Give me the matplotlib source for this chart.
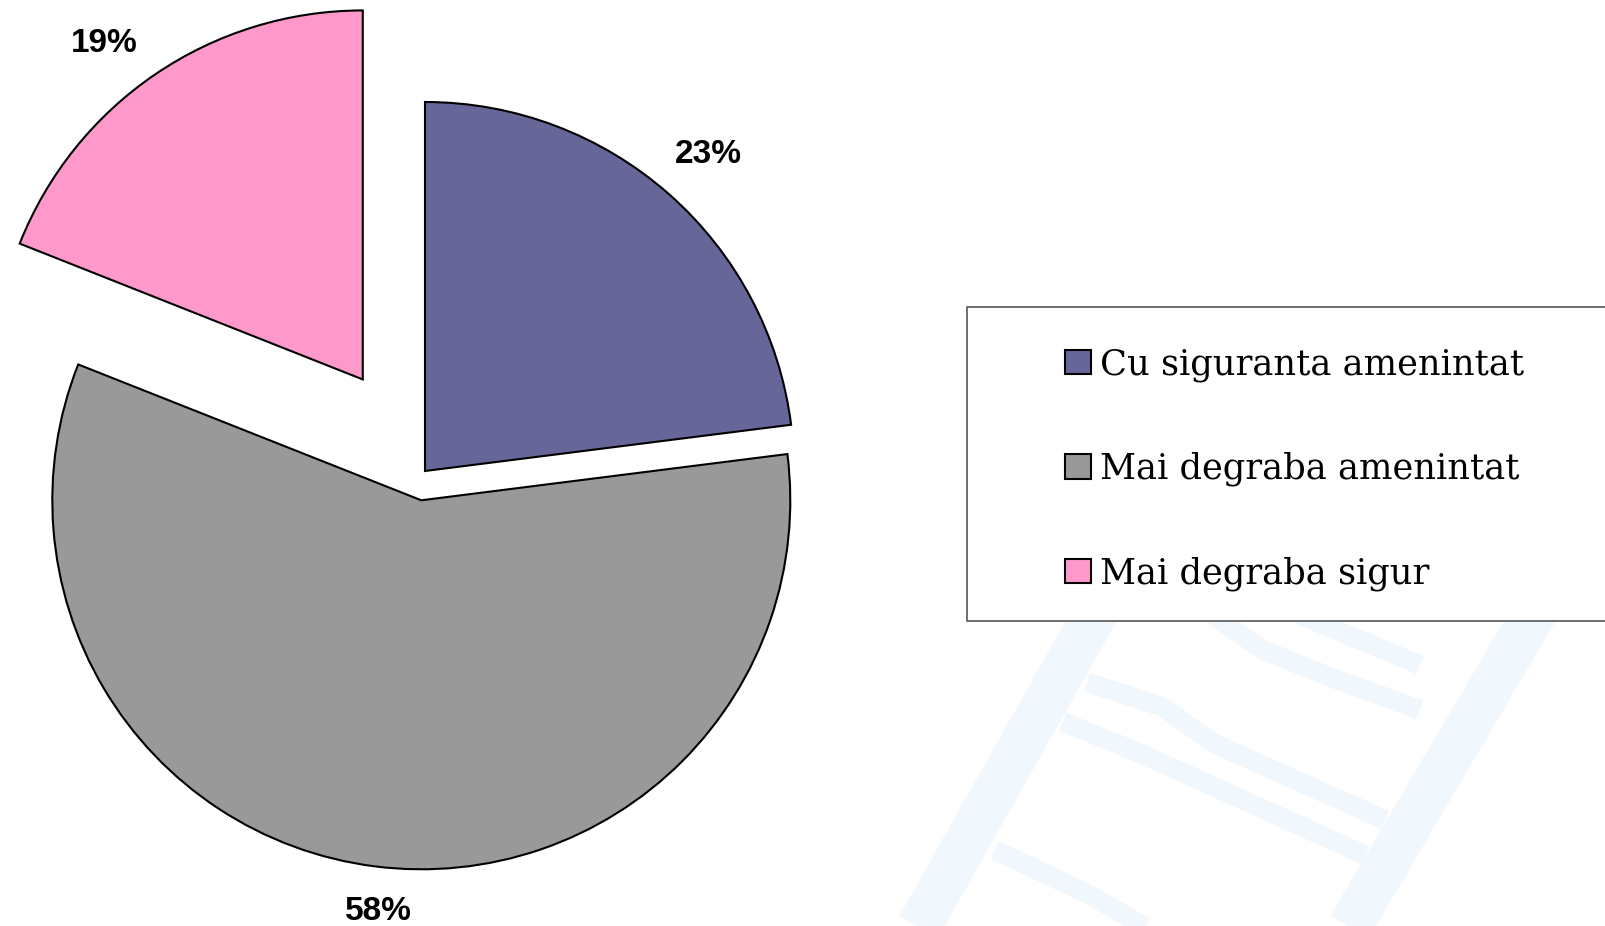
import numpy as np
import matplotlib.pyplot as plt
from matplotlib.patches import Rectangle

categories = ['Cu siguranta amenintat', 'Mai degraba amenintat', 'Mai degraba sigur']
shares = [23, 58, 19]
colors = ['#666699', '#999999', '#FF99CC']
explode = [0.0, 0.08, 0.30]
label_dist = [1.16, 1.11, 1.16]
label_nudge = [(0, -5), (8, -5), (-18, -18)]

W, H = 1606, 926
R = 369

fig = plt.figure(figsize=(16.06, 9.26), dpi=100)
ax = fig.add_axes([0, 0, 1, 1])


def img(pts):
    # picture coords (y down) -> axes coords (y up)
    pts = np.array(pts, dtype=float)
    return pts[:, 0], H - pts[:, 1]


# faint background watermark (ladder)
wm = '#F0F7FD'
for rail in ([(1120, 570), (900, 960)], [(1560, 570), (1330, 960)]):
    x, y = img(rail)
    ax.plot(x, y, color=wm, lw=32, zorder=0, solid_capstyle='butt')
for rung in ([(1087, 682), (1163, 707), (1213, 743), (1280, 773), (1385, 820)],
             [(1063, 722), (1130, 749), (1197, 779), (1263, 809), (1365, 855)],
             [(1213, 615), (1263, 650), (1330, 677), (1420, 710)],
             [(995, 850), (1090, 895), (1150, 930)],
             [(1300, 615), (1420, 665)]):
    x, y = img(rung)
    ax.plot(x, y, color=wm, lw=14, zorder=0, solid_capstyle='butt')

wedges, texts, autotexts = ax.pie(
    shares, colors=colors, explode=[e * R for e in explode], startangle=90,
    counterclock=False, center=(425, H - 471), radius=R,
    autopct='%1.0f%%', frame=True,
    wedgeprops=dict(edgecolor='black', linewidth=1.5),
    textprops=dict(fontfamily='Liberation Sans', fontweight='bold',
                   fontsize=24, color='black'))

for w, t, d, (nx, ny) in zip(wedges, autotexts, label_dist, label_nudge):
    ang = np.deg2rad((w.theta1 + w.theta2) / 2)
    cx, cy = w.center
    t.set_position((cx + w.r * d * np.cos(ang) + nx,
                    cy + w.r * d * np.sin(ang) + ny))

ax.add_patch(Rectangle((967, H - 621), 700, 314, facecolor='white',
                       edgecolor='#555555', lw=1.2, zorder=1, clip_on=False))

ax.legend(wedges, categories, loc='center left',
          bbox_to_anchor=(1065, H - 469), bbox_transform=ax.transData,
          frameon=False, prop=dict(family='DejaVu Serif', size=25.4),
          handlelength=0.74, handleheight=0.68, handletextpad=0.24,
          labelspacing=1.98, borderpad=0, borderaxespad=0)

ax.set_xlim(0, W)
ax.set_ylim(0, H)
ax.axis('off')

fig.savefig('out.png', dpi=100)
